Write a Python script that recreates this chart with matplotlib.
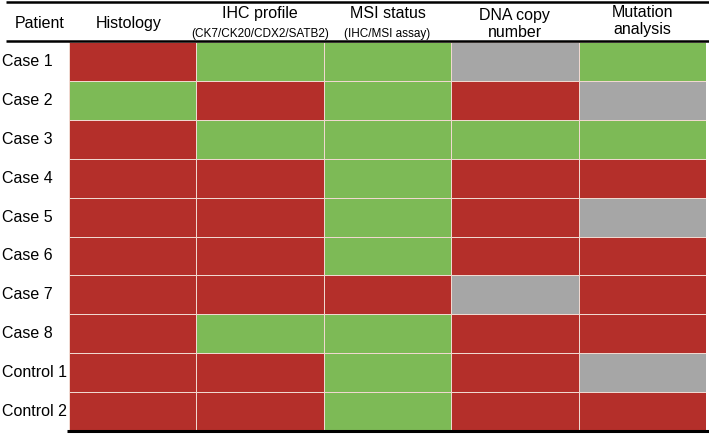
import matplotlib.pyplot as plt
import numpy as np
from matplotlib.colors import ListedColormap
from matplotlib.lines import Line2D

plt.rcParams["font.family"] = ["Liberation Sans", "DejaVu Sans"]

patients = ["Case 1", "Case 2", "Case 3", "Case 4", "Case 5", "Case 6",
            "Case 7", "Case 8", "Control 1", "Control 2"]
columns = ["Histology", "IHC profile", "MSI status", "DNA copy\nnumber", "Mutation\nanalysis"]
subtitles = ["", "(CK7/CK20/CDX2/SATB2)", "(IHC/MSI assay)", "", ""]

# 0 = red (discordant), 1 = green (concordant), 2 = grey (not available)
histology = [0, 1, 0, 0, 0, 0, 0, 0, 0, 0]
ihc_profile = [1, 0, 1, 0, 0, 0, 0, 1, 0, 0]
msi_status = [1, 1, 1, 1, 1, 1, 0, 1, 1, 1]
dna_copy = [2, 0, 1, 0, 0, 0, 2, 0, 0, 0]
mutation = [1, 2, 1, 0, 2, 0, 0, 0, 2, 0]

colors = ["#B42F2A", "#7DBA56", "#A6A6A6"]


def main():
    grid = np.array([histology, ihc_profile, msi_status, dna_copy, mutation]).T
    n_rows, n_cols = grid.shape

    fig = plt.figure(figsize=(7.09, 4.34), dpi=100)
    ax = fig.add_axes([69 / 709, 3 / 434, 637 / 709, 389 / 434])
    ax.pcolormesh(np.arange(n_cols + 1), np.arange(n_rows + 1), grid,
                  cmap=ListedColormap(colors), vmin=-0.5, vmax=2.5,
                  edgecolors="#F0D8D0", linewidth=0.5)
    ax.set_xlim(0, n_cols)
    ax.set_ylim(n_rows, 0)
    ax.axis("off")

    # row labels
    for i, name in enumerate(patients):
        ax.text(-0.525, i + 0.5, name, ha="left", va="center", fontsize=11.5)

    # header
    ax.text(-0.23, -0.48, "Patient", ha="center", va="center", fontsize=11.5)
    for j, (col, sub) in enumerate(zip(columns, subtitles)):
        x = j + 0.5
        if sub:
            ax.text(x, -0.72, col, ha="center", va="center", fontsize=11.5)
            ax.text(x, -0.2, sub, ha="center", va="center", fontsize=8.5)
        elif "\n" in col:
            top, bottom = col.split("\n")
            y0 = -0.69 if j == 3 else -0.75
            ax.text(x, y0, top, ha="center", va="center", fontsize=11.5)
            ax.text(x, y0 + 0.44, bottom, ha="center", va="center", fontsize=11.5)
        else:
            ax.text(x - 0.03, -0.48, col, ha="center", va="center", fontsize=11.5)

    # table rules
    for y, x0, lw in [(-1.02, -0.495, 1.8), (-0.03, -0.495, 1.8), (10.0, -0.016, 2.2)]:
        ax.add_line(Line2D([x0, 5.02], [y, y], color="black", linewidth=lw,
                           clip_on=False, solid_capstyle="butt"))

    fig.savefig("out.png", dpi=100)
    plt.close(fig)


if __name__ == "__main__":
    main()
